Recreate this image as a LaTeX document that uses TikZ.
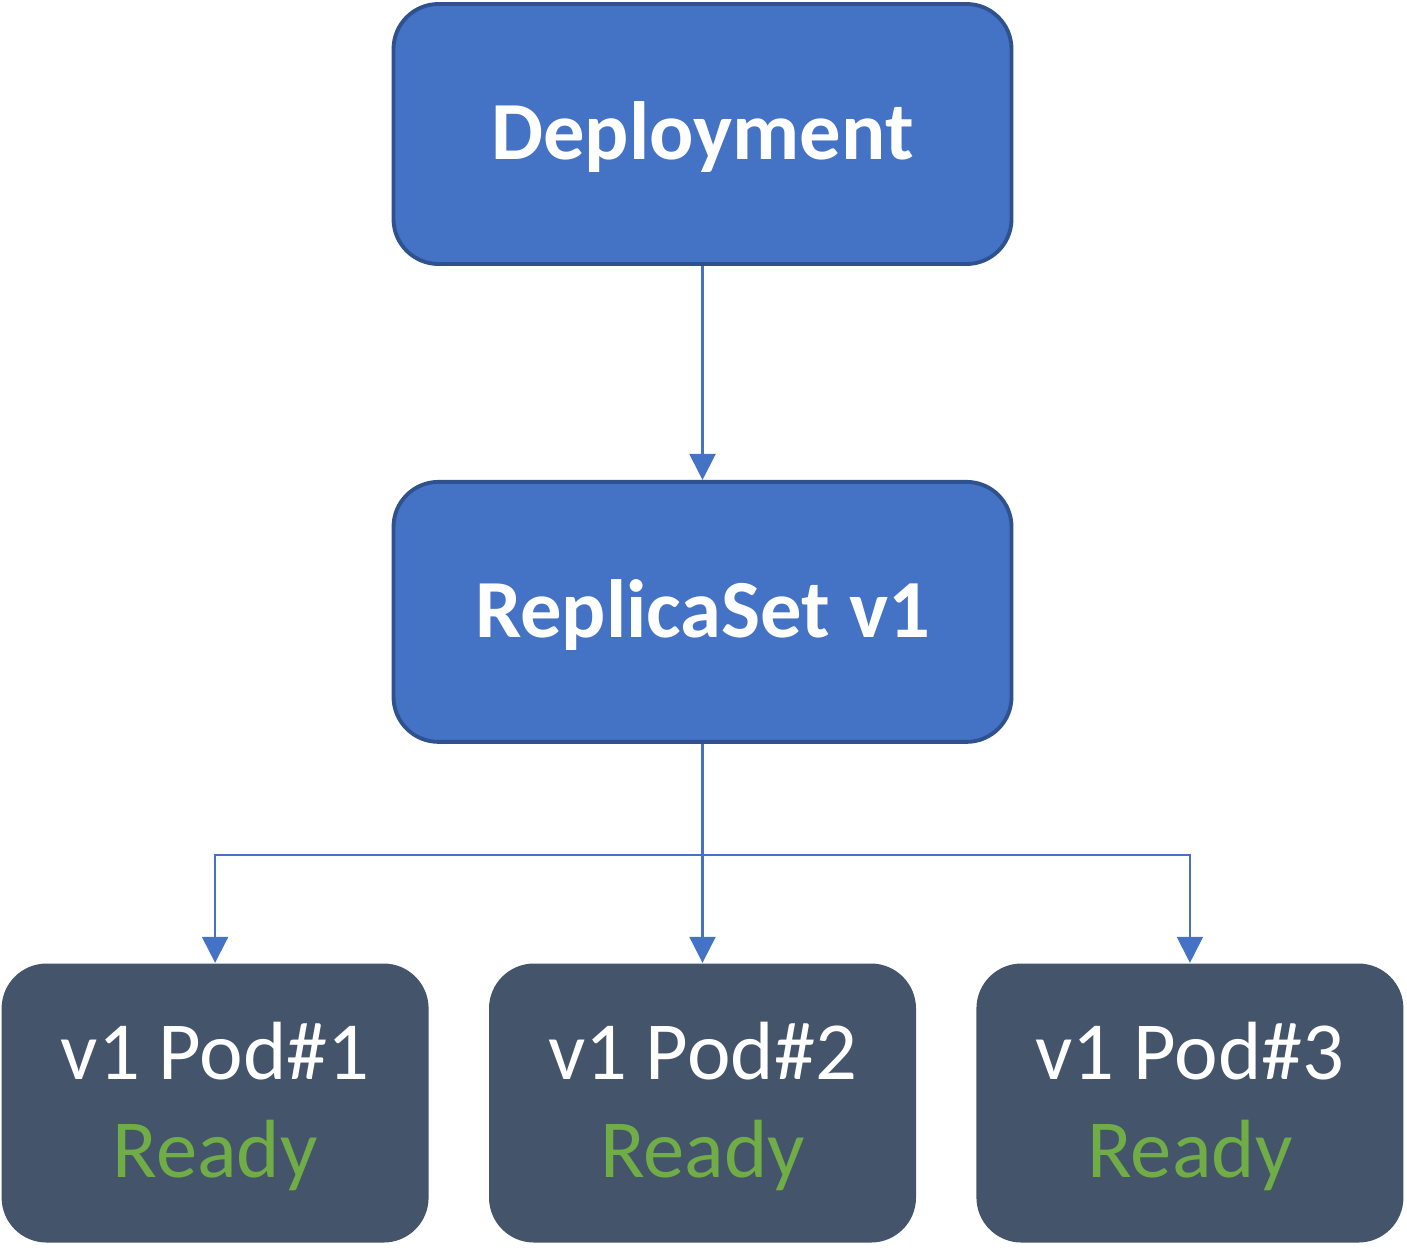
\documentclass[tikz,border=0pt]{standalone}
\usepackage{fontspec}
\setmainfont{Carlito}
\usetikzlibrary{positioning, arrows.meta}
\definecolor{boxblue}{HTML}{4472C4}
\definecolor{boxborder}{HTML}{2F528F}
\definecolor{podgray}{HTML}{44546A}
\definecolor{readygreen}{HTML}{70AD47}

\begin{document}
\begin{tikzpicture}[
    >={Triangle[length=0.26cm, width=0.26cm]}, % gefuellte Dreiecksspitzen
    font=\fontsize{23.5}{28}\selectfont,
    bluebox/.style={draw=boxborder, line width=1.1pt, fill=boxblue, rectangle, rounded corners=0.45cm,
        minimum height=2.6cm, minimum width=6.18cm, text=white, text depth=0.06cm,
        font=\fontsize{23.5}{28}\selectfont\bfseries},
    podbox/.style={fill=podgray, rectangle, rounded corners=0.45cm, align=center,
        minimum height=2.79cm, minimum width=4.27cm, text=white, text depth=0.06cm},
    link/.style={draw=boxblue, line width=0.6pt, ->, boxblue}
]
\useasboundingbox (0,0) rectangle (14.07,-12.55);

% 1. Deployment und ReplicaSet
\node[bluebox] (deploy) at (7.025,-1.34) {Deployment};
\node[bluebox, below=2.14cm of deploy] (rs) {ReplicaSet v1};

% 2. Die drei Pods
\node[podbox] (pod2) at (7.025,-11.03) {v1 Pod\#2\\\textcolor{readygreen}{Ready}};
\node[podbox, left=0.59cm of pod2] (pod1) {v1 Pod\#1\\\textcolor{readygreen}{Ready}};
\node[podbox, right=0.59cm of pod2] (pod3) {v1 Pod\#3\\\textcolor{readygreen}{Ready}};

% 3. Pfeil Deployment -> ReplicaSet
\draw[link] (deploy.south) -- (rs.north);

% 4. Verzweigung zu den Pods
\draw[boxblue, line width=0.6pt] (rs.south) -- ++(0,-1.11) coordinate (split);
\draw[link] (split) -| (pod1.north);
\draw[link] (split) -- (pod2.north);
\draw[link] (split) -| (pod3.north);

\end{tikzpicture}
\end{document}
